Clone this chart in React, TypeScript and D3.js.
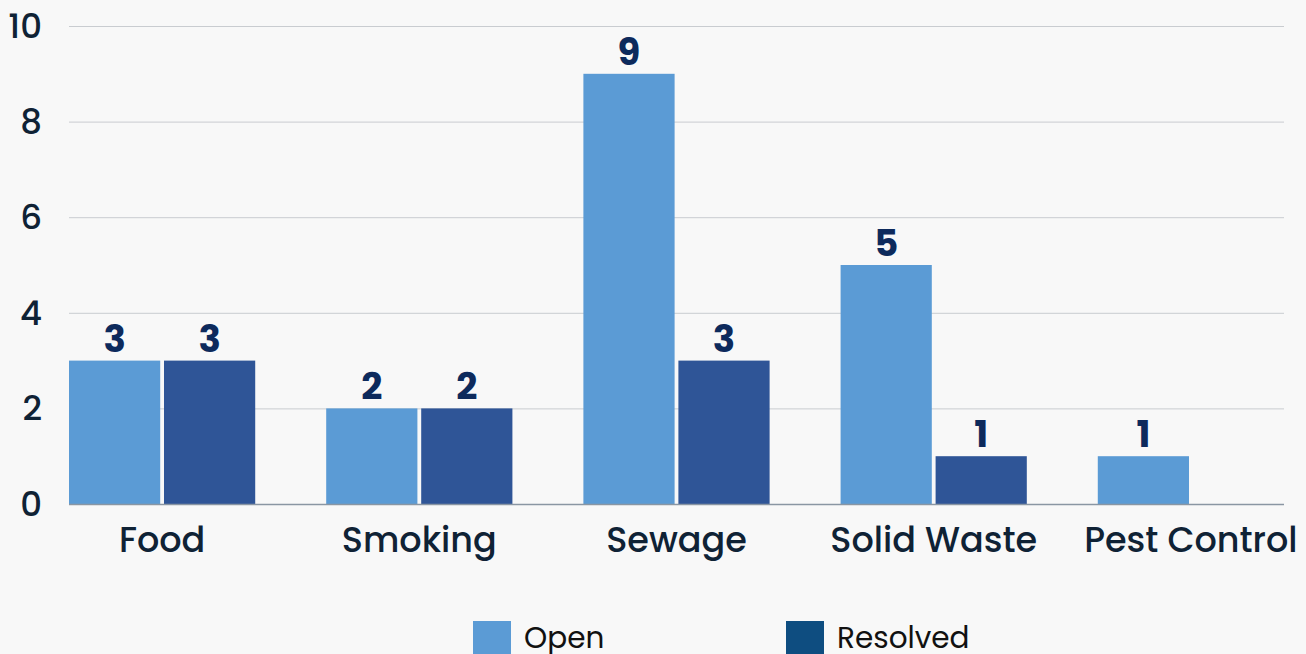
import React, { useRef, useEffect } from 'react';
import * as d3 from 'd3';

const categories = ['Food', 'Smoking', 'Sewage', 'Solid Waste', 'Pest Control'];
const openValues = [3, 2, 9, 5, 1];
const resolvedValues = [3, 2, 3, 1, 0];
const seriesNames = ['Open', 'Resolved'];
const yTicks = [0, 2, 4, 6, 8, 10];

const W = 1306;
const H = 654;
const FONT = "Poppins, 'Open Sans', sans-serif";

const App: React.FC = () => {
    const svgRef = useRef<SVGSVGElement | null>(null);

    useEffect(() => {
        document.body.style.margin = '0';
        const svg = d3.select(svgRef.current);
        svg.selectAll('*').remove();

        svg.append('rect').attr('width', W).attr('height', H).attr('fill', '#f8f8f8');

        const x = d3.scaleBand<string>()
            .domain(categories)
            .range([69, 1284])
            .paddingInner(0.276)
            .paddingOuter(0);

        const x1 = d3.scaleBand<string>()
            .domain(seriesNames)
            .range([0, x.bandwidth()])
            .paddingInner(0.04);

        const y = d3.scaleLinear().domain([0, 10]).range([504, 26]);

        // grid
        svg.append('g')
            .selectAll('line')
            .data(yTicks.slice(1))
            .enter().append('line')
            .attr('x1', 69)
            .attr('x2', 1284)
            .attr('y1', d => y(d) + 0.5)
            .attr('y2', d => y(d) + 0.5)
            .attr('stroke', '#c9ccd0')
            .attr('stroke-width', 1);

        // y tick labels
        svg.append('g')
            .selectAll('text')
            .data(yTicks)
            .enter().append('text')
            .attr('x', 42)
            .attr('y', d => y(d) + 12)
            .attr('text-anchor', 'end')
            .attr('font-family', FONT)
            .attr('font-weight', 500)
            .attr('font-size', 34)
            .attr('fill', '#0f2235')
            .text(d => d);

        const rows = categories.map((c, i) => ({ cat: c, vals: [openValues[i], resolvedValues[i]] }));
        const colors = ['#5b9bd5', '#2f5597'];

        const groups = svg.append('g')
            .selectAll('g')
            .data(rows)
            .enter().append('g')
            .attr('transform', d => `translate(${x(d.cat)},0)`);

        groups.selectAll('rect')
            .data(d => d.vals.map((v, j) => ({ v, s: seriesNames[j], j })))
            .enter().append('rect')
            .attr('x', d => x1(d.s)!)
            .attr('y', d => y(d.v))
            .attr('width', x1.bandwidth())
            .attr('height', d => y(0) - y(d.v))
            .attr('fill', d => colors[d.j]);

        groups.selectAll('text')
            .data(d => d.vals.map((v, j) => ({ v, s: seriesNames[j] })).filter(d => d.v > 0))
            .enter().append('text')
            .attr('x', d => x1(d.s)! + x1.bandwidth() / 2)
            .attr('y', d => y(d.v) - 9)
            .attr('text-anchor', 'middle')
            .attr('font-family', FONT)
            .attr('font-weight', 700)
            .attr('font-size', 37)
            .attr('fill', '#0d2a5c')
            .text(d => d.v);

        // baseline
        svg.append('line')
            .attr('x1', 69).attr('x2', 1284)
            .attr('y1', y(0) + 0.5).attr('y2', y(0) + 0.5)
            .attr('stroke', '#8a96a3').attr('stroke-width', 1.5);

        // x labels
        svg.append('g')
            .selectAll('text')
            .data(categories)
            .enter().append('text')
            .attr('x', d => x(d)! + x.bandwidth() / 2)
            .attr('y', 552)
            .attr('text-anchor', 'middle')
            .attr('font-family', FONT)
            .attr('font-weight', 500)
            .attr('font-size', 35)
            .attr('fill', '#0f2235')
            .text(d => d);

        // legend
        const legendX = [473, 786];
        const legendColors = ['#5b9bd5', '#0e4d80'];
        const legend = svg.append('g')
            .selectAll('g')
            .data(seriesNames)
            .enter().append('g')
            .attr('transform', (d, i) => `translate(${legendX[i]},621)`);
        legend.append('rect')
            .attr('width', 38).attr('height', 38)
            .attr('fill', (d, i) => legendColors[i]);
        legend.append('text')
            .attr('x', 51)
            .attr('y', 27)
            .attr('font-family', FONT)
            .attr('font-size', 29.5)
            .attr('fill', '#111')
            .text(d => d);
    }, []);

    return (
        <svg ref={svgRef} width={W} height={H} style={{ position: 'absolute', left: 0, top: 0 }}></svg>
    );
};

export default App;
